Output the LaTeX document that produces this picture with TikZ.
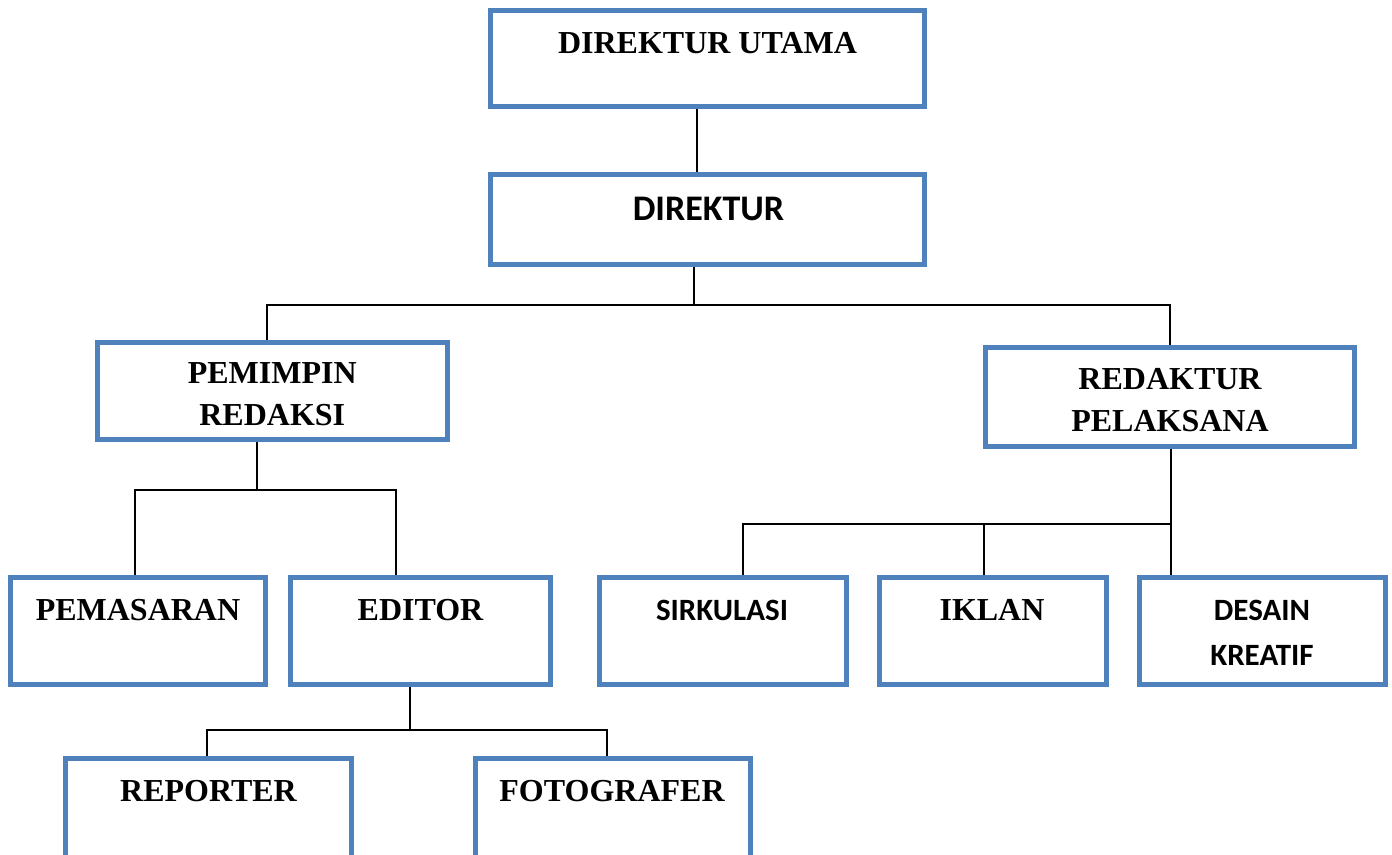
\documentclass[tikz,border=0pt]{standalone}
\usepackage{fontspec}
\setmainfont{Liberation Serif}
\newfontfamily\calfont{Carlito}
\usepackage{tikz}
\definecolor{boxblue}{HTML}{4F81BD}
\tikzset{
  unit/.style={draw=boxblue, line width=5pt, inner sep=0pt},
  ttl/.style={font=\fontsize{32}{42}\selectfont\bfseries, align=center, anchor=north, inner sep=0pt},
  sttl/.style={font=\calfont\fontsize{31}{45}\selectfont\bfseries, align=center, anchor=north, inner sep=0pt},
  link/.style={line width=1.8pt, black}
}
\begin{document}
\begin{tikzpicture}[x=1pt,y=-1pt]
\clip (0,0) rectangle (1392,854);
% boxes
\node[unit, minimum width=434, minimum height=96] (dirut) at (707.5,58.5) {};
\node[unit, minimum width=434, minimum height=90] (dir) at (707.5,219.5) {};
\node[unit, minimum width=349.5, minimum height=97] (pemred) at (272.25,391) {};
\node[unit, minimum width=369, minimum height=99] (redpel) at (1170,397) {};
\node[unit, minimum width=255, minimum height=107] (pemasaran) at (138,631) {};
\node[unit, minimum width=260, minimum height=107] (editor) at (420.5,631) {};
\node[unit, minimum width=247, minimum height=107] (sirkulasi) at (723,631) {};
\node[unit, minimum width=227, minimum height=107] (iklan) at (993,631) {};
\node[unit, minimum width=246, minimum height=107] (desain) at (1262.5,631) {};
\node[unit, minimum width=286, minimum height=110] (reporter) at (208.5,813.5) {};
\node[unit, minimum width=275, minimum height=110] (fotografer) at (613,813.5) {};
% titles
\node[ttl] (dirut-t) at (707.5,32) {DIREKTUR UTAMA};
\node[sttl, font=\calfont\fontsize{36}{45}\selectfont\bfseries] (dir-t) at (708.5,197) {DIREKTUR};
\node[ttl] (pemred-t) at (272.25,362) {PEMIMPIN\\REDAKSI};
\node[ttl] (redpel-t) at (1170,368) {REDAKTUR\\PELAKSANA};
\node[ttl] (pemasaran-t) at (138,599) {PEMASARAN};
\node[ttl] (editor-t) at (420.5,599) {EDITOR};
\node[sttl] (sirkulasi-t) at (722,600) {SIRKULASI};
\node[ttl] (iklan-t) at (992,599) {IKLAN};
\node[sttl] (desain-t) at (1262,600) {DESAIN\\KREATIF};
\node[ttl] (reporter-t) at (208.5,780) {REPORTER};
\node[ttl] (fotografer-t) at (612,780) {FOTOGRAFER};
% connectors
\coordinate (b0) at (697,0);
\coordinate (b1) at (694,305);
\coordinate (b1l) at (267,305);
\coordinate (b1r) at (1170,305);
\coordinate (b2) at (257,490);
\coordinate (b2l) at (135,490);
\coordinate (b2r) at (396,490);
\coordinate (b3l) at (743,524);
\coordinate (b3m) at (984,524);
\coordinate (b3r) at (1171,524);
\coordinate (b4) at (410,730);
\coordinate (b4l) at (207,730);
\coordinate (b4r) at (607,730);
\draw[link] (dirut.south -| b0) -- (dir.north -| b0);
\draw[link] (dir.south -| b1) -- (b1);
\draw[link] (pemred.north -| b1l) |- (b1r) -- (redpel.north -| b1r);
\draw[link] (pemred.south -| b2) -- (b2);
\draw[link] (pemasaran.north -| b2l) |- (b2r) -- (editor.north -| b2r);
\draw[link] (redpel.south -| b3r) -- (desain.north -| b3r);
\draw[link] (sirkulasi.north -| b3l) -- (b3l) -- (b3r);
\draw[link] (b3m) -- (iklan.north -| b3m);
\draw[link] (editor.south -| b4) -- (b4);
\draw[link] (reporter.north -| b4l) |- (b4r) -- (fotografer.north -| b4r);
\end{tikzpicture}
\end{document}
